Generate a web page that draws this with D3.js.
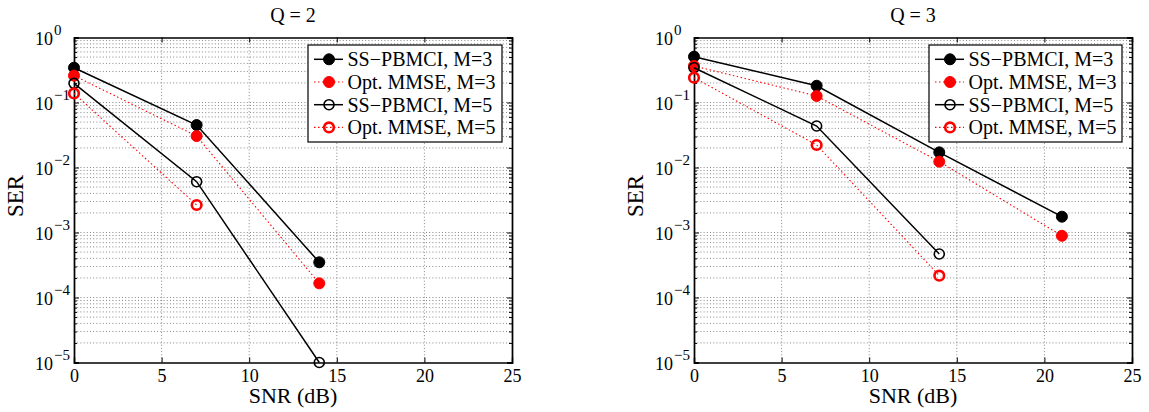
<!DOCTYPE html>
<html>
<head>
<meta charset="utf-8">
<script src="https://cdn.jsdelivr.net/npm/d3@7"></script>
<style>
  html, body { margin: 0; padding: 0; background: #fff; }
  svg { display: block; }
  svg text { font-family: "Liberation Serif", "Times New Roman", serif; fill: #000; }
</style>
</head>
<body>
<svg id="chart" width="1149" height="412"></svg>
<script>
// SNR points (dB)
const snrQ2 = [0, 7, 14];
const snrQ3 = [0, 7, 14, 21];

// Symbol error rates, Q = 2
const ssM3_Q2   = [0.343, 0.045, 3.48e-4];
const mmseM3_Q2 = [0.259, 0.0305, 1.65e-4];
const ssM5_Q2   = [0.197, 6.05e-3, 1.0e-5];
const mmseM5_Q2 = [0.138, 2.65e-3];

// Symbol error rates, Q = 3
const ssM3_Q3   = [0.507, 0.181, 0.0171, 1.75e-3];
const mmseM3_Q3 = [0.365, 0.126, 0.0123, 8.9e-4];
const ssM5_Q3   = [0.343, 0.0435, 4.67e-4];
const mmseM5_Q3 = [0.241, 0.0222, 2.17e-4];

const seriesNames = ["SS\u2212PBMCI, M=3", "Opt. MMSE, M=3", "SS\u2212PBMCI, M=5", "Opt. MMSE, M=5"];
const xTicks = [0, 5, 10, 15, 20, 25];
const yDecades = [-5, -4, -3, -2, -1, 0];

const FONT = "'Liberation Serif', 'Times New Roman', serif";

const styles = [
  { color: "#000", dash: null, width: 1.5, fill: "#000", mstroke: "#000", mw: 1, r: 5.5 },
  { color: "#f00", dash: "1.5,2.5", width: 1.1, fill: "#f00", mstroke: "#f00", mw: 1, r: 5.5 },
  { color: "#000", dash: null, width: 1.5, fill: "none", mstroke: "#000", mw: 1.6, r: 5 },
  { color: "#f00", dash: "1.5,2.5", width: 1.1, fill: "none", mstroke: "#f00", mw: 2.6, r: 4.8 }
];

const panels = [
  { title: "Q = 2", left: 74, right: 512, data: [
      [snrQ2, ssM3_Q2], [snrQ2, mmseM3_Q2], [snrQ2, ssM5_Q2], [snrQ2.slice(0, 2), mmseM5_Q2]] ,
    legend: { x: 308, y: 45, w: 194, h: 97 } },
  { title: "Q = 3", left: 694, right: 1132, data: [
      [snrQ3, ssM3_Q3], [snrQ3, mmseM3_Q3], [snrQ3.slice(0, 3), ssM5_Q3], [snrQ3.slice(0, 3), mmseM5_Q3]],
    legend: { x: 929, y: 45, w: 193, h: 97 } }
];

const plotTop = 37.5, plotBottom = 362.5;
const svg = d3.select("#chart");

panels.forEach(p => {
  const x = d3.scaleLinear().domain([0, 25]).range([p.left, p.right]);
  const y = d3.scaleLog().domain([1e-5, 1]).range([plotBottom, plotTop]);
  const g = svg.append("g").attr("font-family", FONT);

  const minors = [];
  yDecades.slice(0, -1).forEach(d => { for (let k = 2; k <= 9; k++) minors.push(k * Math.pow(10, d)); });
  const majors = yDecades.map(d => Math.pow(10, d));

  // dotted grid
  const grid = g.append("g").attr("stroke", "#555").attr("stroke-width", 0.7).attr("stroke-dasharray", "1,2.2");
  grid.selectAll("line.gy").data(minors.concat(majors.slice(1, -1))).join("line")
    .attr("x1", p.left).attr("x2", p.right)
    .attr("y1", d => y(d)).attr("y2", d => y(d));
  grid.selectAll("line.gx").data(xTicks.slice(1, -1)).join("line")
    .attr("y1", plotTop).attr("y2", plotBottom)
    .attr("x1", d => x(d)).attr("x2", d => x(d));

  // axes
  const xb = g.append("g").attr("transform", `translate(0,${plotBottom})`)
    .call(d3.axisBottom(x).tickValues(xTicks).tickSize(-5).tickPadding(7).tickFormat(d3.format("d")));
  g.append("g").attr("transform", `translate(0,${plotTop})`)
    .call(d3.axisTop(x).tickValues(xTicks).tickSize(-5).tickFormat(""));
  g.append("g").attr("transform", `translate(${p.left},0)`)
    .call(d3.axisLeft(y).tickValues(majors).tickSize(-5).tickFormat(""));
  g.append("g").attr("transform", `translate(${p.right},0)`)
    .call(d3.axisRight(y).tickValues(majors).tickSize(-5).tickFormat(""));
  g.append("g").attr("transform", `translate(${p.left},0)`)
    .call(d3.axisLeft(y).tickValues(minors).tickSize(-3).tickFormat(""));
  g.append("g").attr("transform", `translate(${p.right},0)`)
    .call(d3.axisRight(y).tickValues(minors).tickSize(-3).tickFormat(""));
  g.selectAll(".domain").attr("stroke", "#000").attr("stroke-width", 1.4);
  g.selectAll(".tick line").attr("stroke", "#000").attr("stroke-width", 1);
  xb.attr("font-family", FONT);
  xb.selectAll("text").attr("font-size", 18).attr("font-family", FONT).attr("fill", "#000");

  // y tick labels: base "10" and a raised exponent
  const ylab = g.append("g");
  yDecades.forEach(d => {
    const yy = y(Math.pow(10, d));
    ylab.append("text")
      .attr("x", p.left - 21).attr("y", yy + 7)
      .attr("text-anchor", "end").attr("font-size", 18).attr("font-family", FONT).text("10");
    ylab.append("text")
      .attr("x", p.left - 20).attr("y", yy - 2.5)
      .attr("text-anchor", "start").attr("font-size", 15).attr("font-family", FONT)
      .text(d === 0 ? "0" : "\u2212" + Math.abs(d));
  });

  // series
  p.data.forEach((s, i) => {
    const st = styles[i];
    const pts = s[0].map((v, j) => [v, s[1][j]]);
    const line = d3.line().x(d => x(d[0])).y(d => y(d[1]));
    g.append("path").datum(pts).attr("d", line)
      .attr("fill", "none").attr("stroke", st.color).attr("stroke-width", st.width)
      .attr("stroke-dasharray", st.dash);
    g.selectAll(null).data(pts).join("circle")
      .attr("cx", d => x(d[0])).attr("cy", d => y(d[1])).attr("r", st.r)
      .attr("fill", st.fill).attr("stroke", st.mstroke).attr("stroke-width", st.mw);
  });

  // title and axis labels
  const cx = (p.left + p.right) / 2;
  g.append("text").attr("x", cx).attr("y", 22).attr("text-anchor", "middle")
    .attr("font-size", 20).attr("font-family", FONT).text(p.title);
  g.append("text").attr("x", cx).attr("y", 403).attr("text-anchor", "middle")
    .attr("font-size", 22).attr("font-family", FONT).text("SNR (dB)");
  g.append("text").attr("transform", `translate(${p.left - 51},${(plotTop + plotBottom) / 2 - 4}) rotate(-90)`)
    .attr("text-anchor", "middle").attr("font-size", 23).attr("font-family", FONT).text("SER");

  // legend
  const L = p.legend;
  const lg = g.append("g");
  lg.append("rect").attr("x", L.x).attr("y", L.y).attr("width", L.w).attr("height", L.h)
    .attr("fill", "#fff").attr("stroke", "#000").attr("stroke-width", 1.2);
  seriesNames.forEach((name, i) => {
    const st = styles[i];
    const ly = L.y + 14.3 + i * 22.7;
    lg.append("line").attr("x1", L.x + 6).attr("x2", L.x + 35).attr("y1", ly).attr("y2", ly)
      .attr("stroke", st.color).attr("stroke-width", st.width).attr("stroke-dasharray", st.dash);
    lg.append("circle").attr("cx", L.x + 21).attr("cy", ly).attr("r", st.r)
      .attr("fill", st.fill).attr("stroke", st.mstroke).attr("stroke-width", st.mw);
    lg.append("text").attr("x", L.x + 39.5).attr("y", ly + 7).attr("font-size", 20)
      .attr("font-family", FONT).text(name);
  });
});
</script>
</body>
</html>
